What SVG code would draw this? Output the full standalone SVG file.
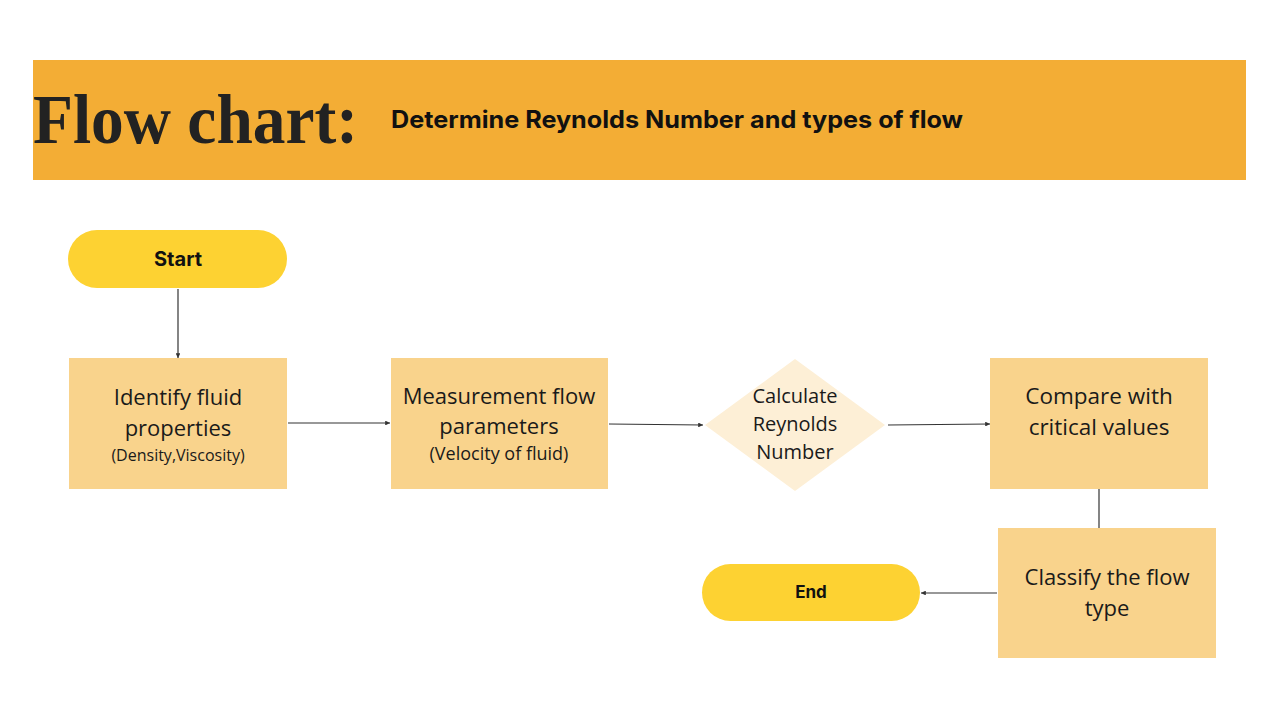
<svg xmlns="http://www.w3.org/2000/svg" width="1280" height="720" viewBox="0 0 1280 720">
<style>
.box{fill:#F9D38C}
.pill{fill:#FDD232}
.dia{fill:#FDEFD6}
.t{font-family:"Open Sans","Liberation Sans",sans-serif;fill:#1a1a1a;text-anchor:middle}
.tb{font-family:Inter,"Liberation Sans",sans-serif;font-weight:700;fill:#111;text-anchor:middle}
.c{stroke:#333;stroke-width:1.2;fill:none}
</style>
<defs>
<marker id="ah" viewBox="0 0 6 6" refX="6" refY="3" markerWidth="4" markerHeight="4" orient="auto">
<path d="M0,0 L6,3 L0,6 z" fill="#333"/>
</marker>
</defs>
<rect width="1280" height="720" fill="#ffffff"/>
<g id="header">
<rect x="33" y="60" width="1213" height="120" fill="#F3AD35"/>
<text x="33" y="143" font-family="'Liberation Serif','DejaVu Serif',serif" font-weight="700" font-size="70" fill="#222" textLength="325" lengthAdjust="spacingAndGlyphs">Flow chart:</text>
<text x="391" y="128" font-family="Inter,'Liberation Sans',sans-serif" font-weight="700" font-size="24" fill="#111" textLength="572" lengthAdjust="spacingAndGlyphs">Determine Reynolds Number and types of flow</text>
</g>
<g id="connectors">
<line class="c" x1="178" y1="289" x2="178" y2="358" marker-end="url(#ah)"/>
<line class="c" x1="288" y1="423" x2="390" y2="423" marker-end="url(#ah)"/>
<line class="c" x1="609" y1="424" x2="703" y2="425" marker-end="url(#ah)"/>
<line class="c" x1="888" y1="425" x2="990" y2="424" marker-end="url(#ah)"/>
<line class="c" x1="1099" y1="489" x2="1099" y2="528"/>
<line class="c" x1="997" y1="593" x2="921" y2="593" marker-end="url(#ah)"/>
</g>
<g id="start">
<rect class="pill" x="68" y="230" width="219" height="58" rx="29"/>
<text class="tb" x="178" y="266" font-size="20">Start</text>
</g>
<g id="identify">
<rect class="box" x="69" y="358" width="218" height="131"/>
<text class="t" x="178" y="405" font-size="22">Identify fluid</text>
<text class="t" x="178" y="436" font-size="22">properties</text>
<text class="t" x="178" y="461" font-size="16">(Density,Viscosity)</text>
</g>
<g id="measure">
<rect class="box" x="391" y="358" width="217" height="131"/>
<text class="t" x="499" y="404" font-size="22">Measurement flow</text>
<text class="t" x="499" y="434" font-size="22">parameters</text>
<text class="t" x="499" y="460" font-size="18">(Velocity of fluid)</text>
</g>
<g id="calculate">
<polygon class="dia" points="795,359 885,425 795,491 705,425"/>
<text class="t" x="795" y="403" font-size="20">Calculate</text>
<text class="t" x="795" y="431" font-size="20">Reynolds</text>
<text class="t" x="795" y="459" font-size="20">Number</text>
</g>
<g id="compare">
<rect class="box" x="990" y="358" width="218" height="131"/>
<text class="t" x="1099" y="404" font-size="22.5">Compare with</text>
<text class="t" x="1099" y="435" font-size="22.5">critical values</text>
</g>
<g id="classify">
<rect class="box" x="998" y="528" width="218" height="130"/>
<text class="t" x="1107" y="585" font-size="22">Classify the flow</text>
<text class="t" x="1107" y="616" font-size="22">type</text>
</g>
<g id="end">
<rect class="pill" x="702" y="564" width="218" height="57" rx="28.5"/>
<text class="tb" x="811" y="598" font-size="17">End</text>
</g>
</svg>
